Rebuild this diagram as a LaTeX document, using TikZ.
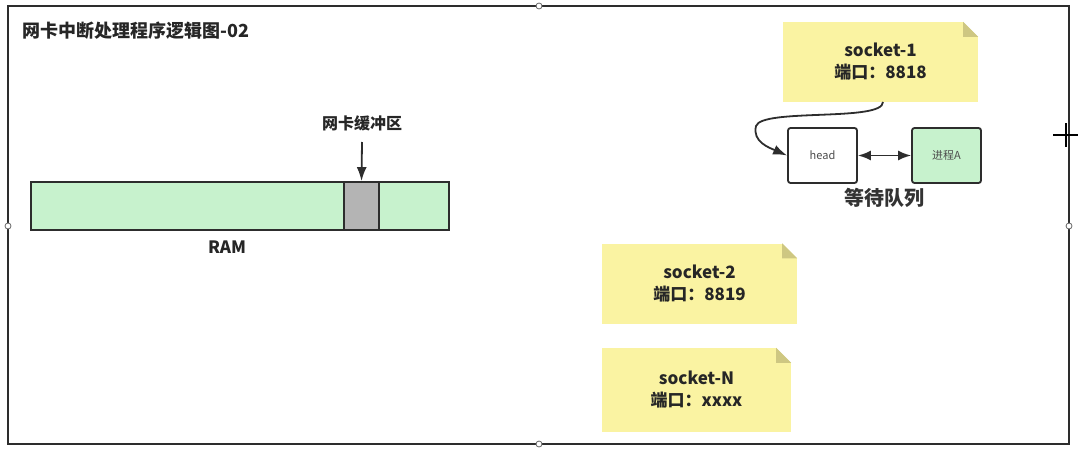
\documentclass[tikz,border=0pt]{standalone}
\usepackage{fontspec}
\setmainfont{Noto Sans CJK SC}
\usetikzlibrary{calc, positioning, arrows, arrows.meta}
\definecolor{noteyellow}{RGB}{250,243,162}
\definecolor{notefold}{RGB}{206,199,130}
\definecolor{ramgreen}{RGB}{199,242,205}
\definecolor{bufgray}{RGB}{180,180,180}
\definecolor{linegray}{RGB}{45,45,45}
\tikzstyle{Note}=[rectangle, fill=noteyellow, minimum width=195pt, minimum height=80pt, inner sep=0pt, align=center, font=\fontsize{17}{22}\selectfont\bfseries, text=black!85]
\tikzstyle{Box}=[rectangle, rounded corners=2.5pt, draw=linegray, line width=1.8pt, minimum width=69pt, minimum height=55pt, inner sep=0pt, font=\fontsize{11}{13}\selectfont, text=black!70]
\tikzstyle{Ram}=[rectangle, draw=linegray, line width=1.8pt, fill=ramgreen, minimum height=48pt, inner sep=0pt]
\tikzstyle{Handle}=[circle, draw=black!60, fill=white, line width=0.8pt, inner sep=0pt, minimum size=6pt]
\tikzstyle{Link}=[line width=1.8pt, draw=linegray]
\tikzstyle{Tip}=[-{Latex[length=14pt,width=10pt]}]
\tikzstyle{TwoTip}=[{Latex[length=13pt,width=10pt]}-{Latex[length=13pt,width=10pt]}]
\newcommand{\fold}[1]{%
  \fill[white] ($(#1.north east)+(-15,0)$) -- (#1.north east) -- ($(#1.north east)+(0,15)$) -- cycle;
  \fill[notefold] ($(#1.north east)+(-15,0)$) -- ($(#1.north east)+(0,15)$) -- ($(#1.north east)+(-15,15)$) -- cycle;}
\begin{document}
\begin{tikzpicture}[x=1pt, y=-1pt]
		\useasboundingbox (0,0) rectangle (1083,460);
		\draw[linegray, line width=1.8pt] (8,6) rectangle (1069,444);
		\node[anchor=west, font=\fontsize{18}{20}\selectfont\bfseries, text=black!85] (title) at (19,31) {网卡中断处理程序逻辑图-02};
		% RAM
		\node[Ram, minimum width=418pt] (ram) at (240,206) {};
		\node[Ram, fill=bufgray, minimum width=35pt] (buf) at (361.5,206) {};
		\node[font=\fontsize{17}{20}\selectfont\bfseries, text=black!85] (ramlbl) at (227,247) {RAM};
		\node[font=\fontsize{16}{20}\selectfont\bfseries, text=black!85] (buflbl) at (362,123) {网卡缓冲区};
		\draw[Link, Tip] (buflbl.south |- 0,142) -- (buf.north);
		% sockets
		\node[Note] (s1) at (880.5,62) {socket-1\\端口：8818};
		\node[Note] (s2) at (699.5,283.5) {socket-2\\端口：8819};
		\node[Note, minimum width=189pt, minimum height=84pt] (sN) at (696.5,390) {socket-N\\端口：xxxx};
		\fold{s1} \fold{s2} \fold{sN}
		% wait queue
		\node[Box, fill=white] (head) at (822.5,155.5) {head};
		\node[Box, fill=ramgreen] (procA) at (946.5,155.5) {进程A};
		\node[below=1pt of $(head.south)!0.5!(procA.south)$, font=\fontsize{20}{24}\selectfont\bfseries, text=black!80] (queue) {等待队列};
		\draw[Link, TwoTip] (head) -- (procA);
		\draw[Link, Tip] (883,102) .. controls (883,122) and (762,108) .. (756,126) .. controls (752,142) and (770,148) .. (head.west);
		% handles
		\node[Handle] (h1) at (539,6) {};
		\node[Handle] (h2) at (8,226) {};
		\node[Handle] (h3) at (1069,226) {};
		\node[Handle] (h4) at (539,444) {};
		\draw[line width=2pt] (1053,135) -- (1078,135) (1066,123) -- (1066,147);
\end{tikzpicture}
\end{document}
